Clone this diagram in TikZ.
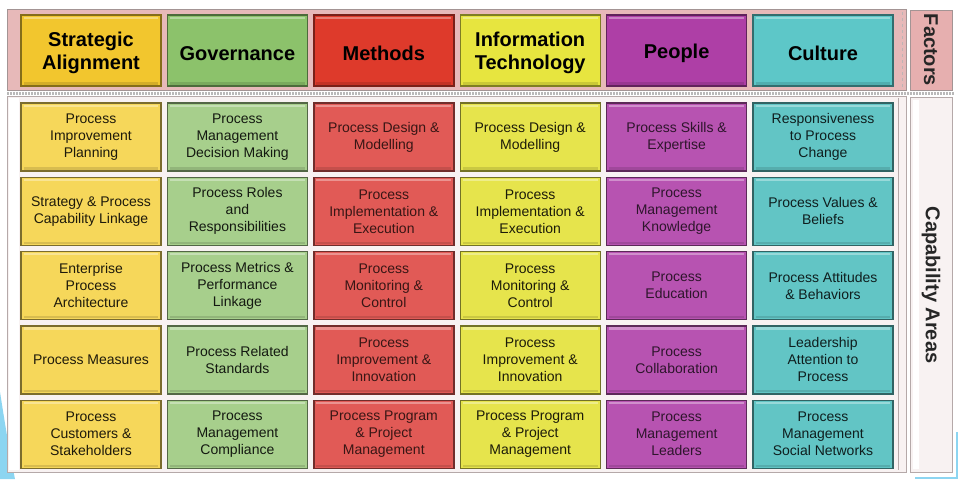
\documentclass[tikz,border=0pt]{standalone}
\usepackage{fontspec}
\setmainfont{Liberation Sans}
% pad a header's text at the top so it sits a little below the box centre
\newcommand{\padtop}[1]{\raisebox{0pt}[\dimexpr\height+6pt\relax]{#1}}
\begin{document}
\definecolor{saH}{HTML}{F2C62E}\definecolor{saC}{HTML}{F6D75A}
\definecolor{goH}{HTML}{8CC26B}\definecolor{goC}{HTML}{A7CF8C}
\definecolor{meH}{HTML}{DE3A2B}\definecolor{meC}{HTML}{E15A56}
\definecolor{itH}{HTML}{E7E53F}\definecolor{itC}{HTML}{E6E44C}
\definecolor{peH}{HTML}{AE3FA6}\definecolor{peC}{HTML}{B753B1}
\definecolor{cuH}{HTML}{5DC7C8}\definecolor{cuC}{HTML}{62C5C5}
\definecolor{bandpink}{HTML}{E7B9B9}
\definecolor{factpink}{HTML}{E6AFAF}
\definecolor{paleband}{HTML}{F8F2F2}
\definecolor{framegray}{HTML}{A39494}
\definecolor{deco}{HTML}{8CD5F1}
\begin{tikzpicture}[x=1pt,y=-1pt,
  bevel/.style={line width=1.4pt,
    path picture={\draw[white,opacity=0.35,line width=2.2pt]
      ([shift={(2.6pt,-2.6pt)}]path picture bounding box.north west) --
      ([shift={(-2.6pt,-2.6pt)}]path picture bounding box.north east);
      \draw[black,opacity=0.12,line width=2.2pt]
      ([shift={(2.6pt,2.6pt)}]path picture bounding box.south west) --
      ([shift={(-2.6pt,2.6pt)}]path picture bounding box.south east);}},
  header/.style={bevel,minimum width=140pt,minimum height=71pt,align=center,
    inner sep=0pt,font=\fontsize{20}{24}\selectfont\bfseries,text=black},
  cell/.style={bevel,minimum width=140pt,minimum height=68pt,align=center,
    inner sep=0pt,font=\fontsize{14}{17}\selectfont},
  sidelabel/.style={rotate=-90,font=\fontsize{20}{24}\selectfont\bfseries,text=black!85},
  sa/.style={cell,fill=saC,draw=saC!50!black,text=saC!12!black},
  go/.style={cell,fill=goC,draw=goC!50!black,text=goC!12!black},
  me/.style={cell,fill=meC,draw=meC!50!black,text=meC!25!black},
  it/.style={cell,fill=itC,draw=itC!50!black,text=itC!12!black},
  pe/.style={cell,fill=peC,draw=peC!50!black,text=peC!25!black},
  cu/.style={cell,fill=cuC,draw=cuC!50!black,text=cuC!15!black}]
\useasboundingbox (0,0) rectangle (960,479);
\fill[white] (0,0) rectangle (960,479);

% slide corner decorations
\fill[deco] (0,392) .. controls (6,430) and (10,455) .. (15,479) -- (0,479) -- cycle;
\draw[deco,line width=1.6pt] (915,478) -- (957,478) -- (957,432);

% factor band and capability band
\draw[framegray,fill=bandpink,line width=1pt] (7,9) rectangle (906,90);
\draw[framegray!70,dashed,line width=0.8pt] (902,12) -- (902,88);
\draw[framegray,fill=factpink,line width=1pt] (910,10) rectangle (952,90);
\draw[gray!55,line width=3pt,dash pattern=on 1.5pt off 1.5pt] (7,93) -- (954,93);
\draw[framegray!80,fill=paleband,line width=1pt] (7,96) rectangle (906,472);
\fill[white] (9,98) rectangle (19,470);
\draw[framegray!80,line width=1pt] (898,98) -- (898,470);
\draw[framegray!80,fill=paleband,line width=1pt] (910,97) rectangle (952,472);
\fill[white] (913,100) rectangle (919,469);

\node[sidelabel] (factors) at (931,50) {Factors};
\node[sidelabel] (capab) at (931,285) {Capability Areas};

% factor headers
\node[header,fill=saH,draw=saH!55!black] (h1) at (91,50.5) {\padtop{\begin{tabular}{@{}c@{}}Strategic\\[-1pt]Alignment\end{tabular}}};
\node[header,fill=goH,draw=goH!55!black] (h2) at (237.4,50.5) {\padtop{Governance}};
\node[header,fill=meH,draw=meH!55!black] (h3) at (383.8,50.5) {\padtop{Methods}};
\node[header,fill=itH,draw=itH!55!black] (h4) at (530.2,50.5) {\padtop{\begin{tabular}{@{}c@{}}Information\\[-1pt]Technology\end{tabular}}};
\node[header,fill=peH,draw=peH!55!black] (h5) at (676.6,50.5) {\padtop{People}};
\node[header,fill=cuH,draw=cuH!55!black] (h6) at (823,50.5) {\padtop{Culture}};

% capability area cells
\node[sa] (c11) at (91,137) {Process\\Improvement\\Planning};
\node[sa] (c21) at (91,211.3) {Strategy \& Process\\Capability Linkage};
\node[sa] (c31) at (91,285.6) {Enterprise\\Process\\Architecture};
\node[sa] (c41) at (91,359.9) {Process Measures};
\node[sa] (c51) at (91,434.2) {Process\\Customers \&\\Stakeholders};

\node[go] (c12) at (237.4,137) {Process\\Management\\Decision Making};
\node[go] (c22) at (237.4,211.3) {Process Roles\\and\\Responsibilities};
\node[go] (c32) at (237.4,285.6) {Process Metrics \&\\Performance\\Linkage};
\node[go] (c42) at (237.4,359.9) {Process Related\\Standards};
\node[go] (c52) at (237.4,434.2) {Process\\Management\\Compliance};

\node[me] (c13) at (383.8,137) {Process Design \&\\Modelling};
\node[me] (c23) at (383.8,211.3) {Process\\Implementation \&\\Execution};
\node[me] (c33) at (383.8,285.6) {Process\\Monitoring \&\\Control};
\node[me] (c43) at (383.8,359.9) {Process\\Improvement \&\\Innovation};
\node[me] (c53) at (383.8,434.2) {Process Program\\\& Project\\Management};

\node[it] (c14) at (530.2,137) {Process Design \&\\Modelling};
\node[it] (c24) at (530.2,211.3) {Process\\Implementation \&\\Execution};
\node[it] (c34) at (530.2,285.6) {Process\\Monitoring \&\\Control};
\node[it] (c44) at (530.2,359.9) {Process\\Improvement \&\\Innovation};
\node[it] (c54) at (530.2,434.2) {Process Program\\\& Project\\Management};

\node[pe] (c15) at (676.6,137) {Process Skills \&\\Expertise};
\node[pe] (c25) at (676.6,211.3) {Process\\Management\\Knowledge};
\node[pe] (c35) at (676.6,285.6) {Process\\Education};
\node[pe] (c45) at (676.6,359.9) {Process\\Collaboration};
\node[pe] (c55) at (676.6,434.2) {Process\\Management\\Leaders};

\node[cu] (c16) at (823,137) {Responsiveness\\to Process\\Change};
\node[cu] (c26) at (823,211.3) {Process Values \&\\Beliefs};
\node[cu] (c36) at (823,285.6) {Process Attitudes\\\& Behaviors};
\node[cu] (c46) at (823,359.9) {Leadership\\Attention to\\Process};
\node[cu] (c56) at (823,434.2) {Process\\Management\\Social Networks};
\end{tikzpicture}
\end{document}
